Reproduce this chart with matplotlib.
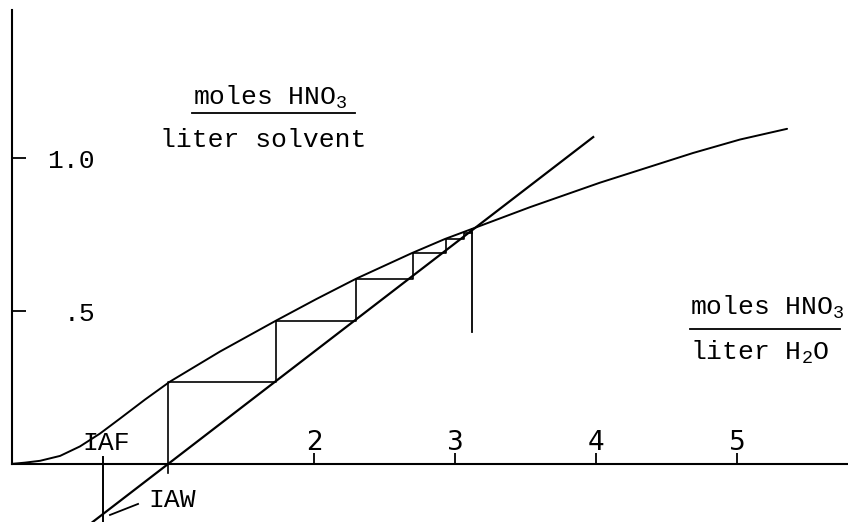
import matplotlib
matplotlib.use("Agg")
import matplotlib.pyplot as plt

plt.rcParams['font.family'] = ['Liberation Mono', 'DejaVu Sans']

# equilibrium curve: moles HNO3/l solvent vs moles HNO3/l H2O
eq_x = [-0.142, -0.050, 0.057, 0.199, 0.340, 0.482, 0.624, 0.801, 0.979, 1.333,
        1.730, 2.014, 2.298, 2.695, 2.929, 3.121, 3.532, 4.028, 4.688, 5.021, 5.355]
eq_y = [0.0, 0.004, 0.010, 0.026, 0.057, 0.099, 0.148, 0.210, 0.269, 0.367,
        0.468, 0.538, 0.605, 0.689, 0.735, 0.768, 0.839, 0.919, 1.016, 1.060, 1.095]

# operating line end points
op_x = [0.43, 3.98]
op_y = [-0.190, 1.068]

# stage construction: vertical positions and horizontal levels
stage_x = [0.965, 1.730, 2.298, 2.700, 2.935, 3.065]
stage_y = [0.269, 0.468, 0.605, 0.690, 0.735, 0.755]

# feed point and IAF/IAW stream markers
feed_x = 3.121
feed_y = [0.768, 0.430]
iaf_x = 0.50
iaf_y = [0.023, -0.19]

xtick_vals = [2, 3, 4, 5]
xtick_text = ['2', '3', '4', '5']
ytick_vals = [0.5, 1.0]
ytick_text = ['.5', '1.0']

fig = plt.figure(figsize=(8.48, 5.22), dpi=100)
ax = fig.add_axes([0, 0, 1, 1])
ax.set_xlim(-0.227, 5.787)
ax.set_ylim(-0.19, 1.516)

# axes drawn as spines crossing at the corner
for side in ['top', 'right']:
    ax.spines[side].set_visible(False)
ax.spines['left'].set_position(('data', -0.142))
ax.spines['left'].set_bounds(0, 1.484)
ax.spines['bottom'].set_position(('data', 0))
ax.spines['bottom'].set_bounds(-0.142, 5.787)
for side in ['left', 'bottom']:
    ax.spines[side].set_linewidth(1.5)

ax.set_xticks(xtick_vals)
ax.set_yticks(ytick_vals)
ax.tick_params(axis='x', direction='in', length=8, width=1.3, labelbottom=False)
ax.tick_params(axis='y', direction='in', length=10, width=1.3, labelleft=False)

for xv, t in zip(xtick_vals, xtick_text):
    ax.text(xv, 0.046, t, ha='center', va='baseline', fontsize=19,
            family=['Liberation Sans Narrow', 'DejaVu Sans'])
for yv, t in zip(ytick_vals, ytick_text):
    ax.text(0.447, yv - 0.033, t, ha='right', va='baseline', fontsize=19)

ax.plot(eq_x, eq_y, color='black', lw=1.4, solid_capstyle='round', solid_joinstyle='round')
ax.plot(op_x, op_y, color='black', lw=1.6)

# staircase between the two curves
sx = [stage_x[0]]
sy = [-0.03]
for i, yv in enumerate(stage_y):
    sx += [stage_x[i], stage_x[i + 1] if i + 1 < len(stage_x) else feed_x]
    sy += [yv, yv]
ax.plot(sx, sy, color='black', lw=1.2)

ax.plot([feed_x, feed_x], feed_y, color='black', lw=1.3)
ax.plot([iaf_x, iaf_x], iaf_y, color='black', lw=1.4)

ax.text(0.355, 0.046, 'IAF', ha='left', va='baseline', fontsize=19)
ax.text(0.823, -0.14, 'IAW', ha='left', va='baseline', fontsize=19)
ax.plot([0.752, 0.553], [-0.131, -0.167], color='black', lw=1.3)

# axis titles written as fractions
ax.text(1.142, 1.173, 'moles HNO$_\\mathregular{3}$', ha='left', va='baseline', fontsize=19)
ax.plot([1.135, 2.291], [1.147, 1.147], color='black', lw=1.3)
ax.text(0.908, 1.036, 'liter solvent', ha='left', va='baseline', fontsize=19)

ax.text(4.667, 0.487, 'moles HNO$_\\mathregular{3}$', ha='left', va='baseline', fontsize=19)
ax.plot([4.667, 5.73], [0.441, 0.441], color='black', lw=1.3)
ax.text(4.667, 0.340, 'liter H$_\\mathregular{2}$O', ha='left', va='baseline', fontsize=19)

fig.savefig('out.png', dpi=100)
